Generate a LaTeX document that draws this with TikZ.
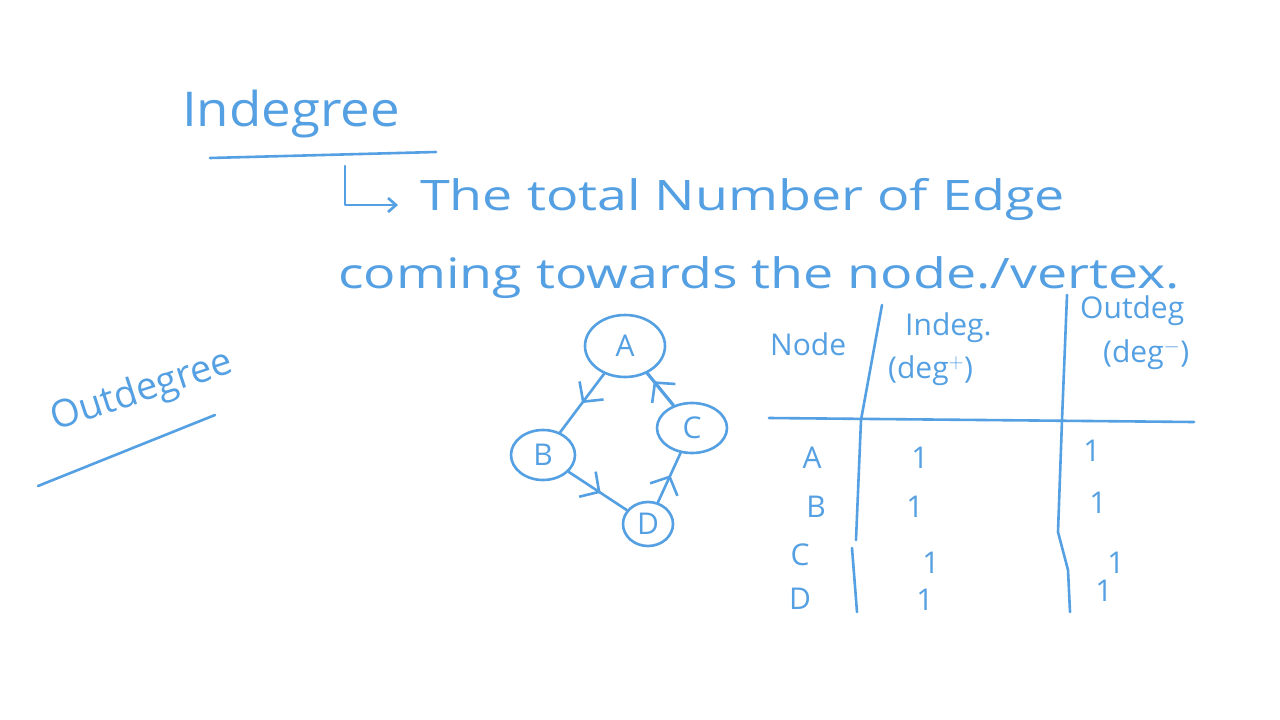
\documentclass[tikz,border=0pt]{standalone}
\usepackage{fontspec}
\setmainfont{Open Sans}
\usetikzlibrary{shapes.geometric,arrows.meta,decorations.markings}
\definecolor{ink}{RGB}{84,160,226}
\tikzset{
  hand/.style={text=ink, inner sep=0pt, anchor=base west},
  big/.style={hand, font=\fontsize{42}{42}\selectfont},
  mid/.style={hand, font=\fontsize{30}{30}\selectfont},
  stroke/.style={draw=ink, line width=2.6pt, line cap=round, line join=round},
  vtx/.style={ellipse, draw=ink, line width=2.6pt, text=ink, font=\fontsize{30}{30}\selectfont, inner sep=0pt},
  midarrow/.style={stroke, postaction={decorate, decoration={markings, mark=at position #1 with {\arrow[ink, line width=2.6pt]{Straight Barb[length=14pt, width=30pt]}}}}},
}
\begin{document}
\begin{tikzpicture}[x=1pt, y=-1pt]
\useasboundingbox (0,0) rectangle (1280,720);
\fill[white] (0,0) rectangle (1280,720);

% Indegree heading
\node[hand, font=\fontsize{48}{48}\selectfont] (indeg) at (182,126) {\scalebox{1.1}[1]{Indegree}};
\draw[stroke] (210,158) -- (436,152);

% definition
\coordinate (lt) at (345,166);
\coordinate (lb) at (345,205);
\coordinate (lr) at (398,205);
\draw[stroke, -{Straight Barb[length=8pt,width=14pt]}] (lt) -- (lb) -- (lr);
\node[big] (def1) at (420,210) {\scalebox{1.28}[1]{The total Number of Edge}};
\node[big] (def2) at (338,288) {\scalebox{1.28}[1]{coming towards the node./vertex.}};

% Outdegree heading
\node[hand, font=\fontsize{38}{38}\selectfont, rotate=18, anchor=center] (outdeg) at (142,392) {Outdegree};
\draw[stroke] (38,486) -- (215,415);

% graph
\node[vtx, minimum width=80pt, minimum height=62pt] (A) at (625,346) {A};
\node[vtx, minimum width=64pt, minimum height=50pt] (B) at (543,455) {B};
\node[vtx, minimum width=70pt, minimum height=50pt] (C) at (692,428) {C};
\node[vtx, minimum width=50pt, minimum height=44pt] (D) at (648,524) {D};
\draw[midarrow=0.5] (A) -- (B);
\draw[midarrow=0.55] (B) -- (D);
\draw[midarrow=0.55] (D) -- (C);
\draw[midarrow=0.75, line width=3.2pt] (C) -- (A);

% table
\draw[stroke] (769,418) -- (1194,422);
\draw[stroke] (882,305) -- (861,420) -- (856,540);
\draw[stroke] (852,548) -- (857,612);
\draw[stroke] (1067,295) -- (1062,420) -- (1058,532) -- (1068,570) -- (1070,612);
\node[mid] (hnode) at (770,355) {Node};
\node[mid] (hin) at (905,335) {Indeg.};
\node[mid] (hin2) at (888,378) {(deg$^{+}$)};
\node[mid] (hout) at (1080,318) {Outdeg};
\node[mid] (hout2) at (1103,362) {(deg$^{-}$)};
\node[mid, anchor=center] (rA) at (812,458) {A};
\node[mid, anchor=center] (rB) at (816,507) {B};
\node[mid, anchor=center] (rC) at (800,555) {C};
\node[mid, anchor=center] (rD) at (800,599) {D};
\node[mid, anchor=center] (a1) at (920,458) {1};
\node[mid, anchor=center] (b1) at (915,507) {1};
\node[mid, anchor=center] (c1) at (931,563) {1};
\node[mid, anchor=center] (d1) at (925,600) {1};
\node[mid, anchor=center] (a2) at (1092,451) {1};
\node[mid, anchor=center] (b2) at (1098,503) {1};
\node[mid, anchor=center] (c2) at (1116,563) {1};
\node[mid, anchor=center] (d2) at (1104,591) {1};
\end{tikzpicture}
\end{document}
